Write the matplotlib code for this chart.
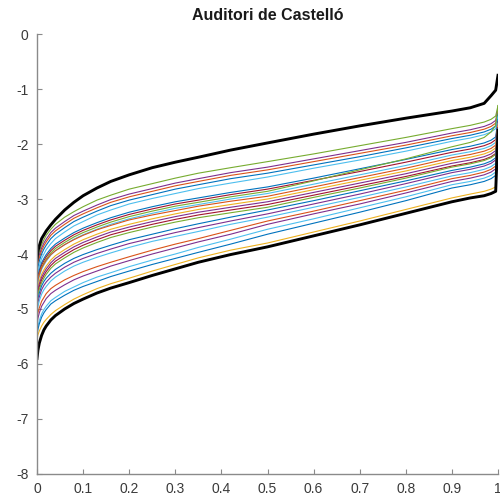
import matplotlib
matplotlib.use("Agg")
import matplotlib.pyplot as plt

# x positions (probability levels) at which the curves were read
p = [0, 0.002, 0.005, 0.01, 0.015, 0.02, 0.03, 0.04, 0.06, 0.08, 0.1, 0.13, 0.16, 0.2,
     0.25, 0.3, 0.35, 0.42, 0.5, 0.6, 0.7, 0.8, 0.9, 0.94, 0.97, 0.985, 0.995, 1.0]

upper_black = [-4.10, -3.95, -3.85, -3.72, -3.65, -3.58, -3.47, -3.37, -3.20, -3.06, -2.94, -2.80, -2.68, -2.56,
               -2.43, -2.33, -2.24, -2.11, -1.98, -1.82, -1.67, -1.53, -1.40, -1.34, -1.26, -1.12, -1.02, -0.75]
lower_black = [-5.90, -5.75, -5.62, -5.48, -5.38, -5.31, -5.20, -5.12, -5.00, -4.90, -4.82, -4.71, -4.62, -4.52,
               -4.39, -4.27, -4.15, -4.01, -3.87, -3.67, -3.47, -3.26, -3.05, -2.98, -2.94, -2.90, -2.86, -1.75]

c01 = [-4.25, -4.08, -3.96, -3.83, -3.74, -3.66, -3.55, -3.46, -3.33, -3.23, -3.14, -3.02, -2.93, -2.82,
       -2.72, -2.62, -2.53, -2.43, -2.32, -2.18, -2.03, -1.88, -1.72, -1.66, -1.60, -1.55, -1.49, -1.30]
c02 = [-4.30, -4.13, -4.02, -3.89, -3.80, -3.73, -3.61, -3.53, -3.41, -3.30, -3.22, -3.11, -3.01, -2.91,
       -2.81, -2.71, -2.63, -2.52, -2.42, -2.27, -2.12, -1.97, -1.80, -1.74, -1.68, -1.63, -1.57, -1.35]
c03 = [-4.35, -4.18, -4.07, -3.94, -3.85, -3.78, -3.66, -3.58, -3.46, -3.35, -3.27, -3.16, -3.06, -2.96,
       -2.86, -2.76, -2.68, -2.57, -2.47, -2.32, -2.17, -2.02, -1.85, -1.79, -1.73, -1.68, -1.62, -1.40]
c04 = [-4.41, -4.24, -4.13, -4.00, -3.91, -3.84, -3.72, -3.64, -3.52, -3.41, -3.33, -3.22, -3.12, -3.02,
       -2.92, -2.82, -2.74, -2.63, -2.53, -2.38, -2.23, -2.07, -1.90, -1.84, -1.78, -1.73, -1.67, -1.45]
c05 = [-4.50, -4.33, -4.22, -4.08, -4.00, -3.92, -3.81, -3.72, -3.60, -3.49, -3.41, -3.29, -3.20, -3.09,
       -2.99, -2.90, -2.81, -2.71, -2.60, -2.44, -2.29, -2.13, -1.95, -1.89, -1.83, -1.78, -1.72, -1.50]
c06 = [-4.55, -4.39, -4.29, -4.16, -4.08, -4.01, -3.90, -3.82, -3.71, -3.61, -3.53, -3.43, -3.34, -3.24,
       -3.14, -3.05, -2.98, -2.88, -2.78, -2.62, -2.45, -2.28, -2.10, -2.04, -1.98, -1.93, -1.87, -1.55]
c07 = [-4.59, -4.43, -4.33, -4.20, -4.12, -4.05, -3.94, -3.86, -3.75, -3.65, -3.57, -3.47, -3.38, -3.28,
       -3.18, -3.09, -3.02, -2.92, -2.82, -2.66, -2.50, -2.33, -2.15, -2.09, -2.03, -1.98, -1.92, -1.60]
c08 = [-4.63, -4.47, -4.37, -4.24, -4.16, -4.09, -3.98, -3.90, -3.79, -3.69, -3.61, -3.51, -3.42, -3.32,
       -3.22, -3.13, -3.06, -2.96, -2.86, -2.67, -2.47, -2.27, -2.05, -1.97, -1.88, -1.78, -1.66, -1.30]
c09 = [-4.67, -4.51, -4.41, -4.28, -4.20, -4.13, -4.02, -3.94, -3.83, -3.73, -3.65, -3.55, -3.46, -3.36,
       -3.26, -3.17, -3.10, -3.00, -2.90, -2.73, -2.56, -2.39, -2.20, -2.14, -2.08, -2.03, -1.97, -1.62]
c10 = [-4.62, -4.47, -4.37, -4.25, -4.18, -4.11, -4.01, -3.94, -3.83, -3.74, -3.66, -3.56, -3.48, -3.38,
       -3.29, -3.21, -3.13, -3.04, -2.95, -2.78, -2.61, -2.44, -2.25, -2.19, -2.13, -2.08, -2.02, -1.65]
c11 = [-4.75, -4.59, -4.49, -4.37, -4.29, -4.22, -4.11, -4.03, -3.92, -3.82, -3.74, -3.64, -3.55, -3.46,
       -3.36, -3.27, -3.19, -3.10, -3.00, -2.83, -2.66, -2.49, -2.30, -2.24, -2.18, -2.13, -2.07, -1.68]
c12 = [-4.80, -4.64, -4.54, -4.42, -4.34, -4.27, -4.16, -4.08, -3.97, -3.87, -3.79, -3.69, -3.60, -3.51,
       -3.41, -3.32, -3.24, -3.15, -3.05, -2.88, -2.71, -2.54, -2.35, -2.29, -2.23, -2.18, -2.12, -1.70]
c13 = [-4.85, -4.69, -4.59, -4.47, -4.39, -4.32, -4.21, -4.13, -4.02, -3.92, -3.84, -3.74, -3.65, -3.56,
       -3.46, -3.37, -3.29, -3.20, -3.10, -2.93, -2.76, -2.59, -2.40, -2.34, -2.28, -2.23, -2.17, -1.70]
c14 = [-4.90, -4.74, -4.64, -4.52, -4.44, -4.37, -4.26, -4.18, -4.07, -3.97, -3.89, -3.79, -3.70, -3.61,
       -3.51, -3.42, -3.34, -3.25, -3.15, -2.97, -2.80, -2.62, -2.42, -2.36, -2.30, -2.25, -2.19, -1.72]
c15 = [-4.95, -4.81, -4.71, -4.58, -4.50, -4.44, -4.35, -4.28, -4.17, -4.08, -4.01, -3.92, -3.84, -3.74,
       -3.64, -3.54, -3.45, -3.33, -3.20, -3.03, -2.85, -2.67, -2.48, -2.42, -2.36, -2.31, -2.25, -1.72]
c16 = [-5.02, -4.88, -4.78, -4.65, -4.57, -4.51, -4.42, -4.35, -4.24, -4.15, -4.08, -3.99, -3.91, -3.81,
       -3.71, -3.61, -3.52, -3.40, -3.27, -3.09, -2.91, -2.72, -2.52, -2.46, -2.40, -2.35, -2.29, -1.75]
c17 = [-5.10, -4.96, -4.85, -4.73, -4.65, -4.59, -4.49, -4.42, -4.31, -4.22, -4.15, -4.06, -3.98, -3.88,
       -3.77, -3.68, -3.59, -3.46, -3.33, -3.15, -2.97, -2.78, -2.58, -2.52, -2.46, -2.41, -2.35, -1.75]
c18 = [-5.20, -5.07, -4.98, -4.86, -4.79, -4.72, -4.63, -4.57, -4.47, -4.39, -4.32, -4.23, -4.15, -4.05,
       -3.93, -3.82, -3.72, -3.57, -3.40, -3.22, -3.03, -2.84, -2.63, -2.57, -2.51, -2.46, -2.40, -1.78]
c19 = [-5.30, -5.17, -5.07, -4.95, -4.88, -4.81, -4.72, -4.66, -4.56, -4.47, -4.40, -4.31, -4.22, -4.12,
       -4.00, -3.89, -3.78, -3.64, -3.46, -3.27, -3.09, -2.89, -2.68, -2.62, -2.56, -2.51, -2.45, -1.80]
c20 = [-5.45, -5.32, -5.21, -5.09, -5.01, -4.95, -4.85, -4.79, -4.68, -4.60, -4.52, -4.42, -4.34, -4.23,
       -4.11, -4.00, -3.88, -3.73, -3.55, -3.36, -3.16, -2.96, -2.74, -2.68, -2.62, -2.57, -2.51, -1.80]
c21 = [-5.50, -5.37, -5.27, -5.15, -5.07, -5.01, -4.91, -4.85, -4.75, -4.66, -4.59, -4.50, -4.41, -4.31,
       -4.19, -4.08, -3.97, -3.82, -3.64, -3.44, -3.24, -3.03, -2.80, -2.74, -2.68, -2.63, -2.57, -1.82]
c22 = [-5.55, -5.47, -5.40, -5.31, -5.24, -5.19, -5.10, -5.03, -4.92, -4.82, -4.74, -4.63, -4.54, -4.44,
       -4.31, -4.19, -4.07, -3.93, -3.80, -3.60, -3.40, -3.19, -2.98, -2.91, -2.86, -2.82, -2.78, -1.85]

colored = [c01, c02, c03, c04, c05, c06, c07, c08, c09, c10, c11,
           c12, c13, c14, c15, c16, c17, c18, c19, c20, c21, c22]
curve_colors = ['#77AC30', '#7E2F8E', '#D95319', '#0072BD', '#4DBEEE', '#0072BD', '#A2142F',
                '#77AC30', '#4DBEEE', '#D95319', '#EDB120', '#7E2F8E', '#A2142F', '#77AC30',
                '#0072BD', '#7E2F8E', '#4DBEEE', '#D95319', '#7E2F8E', '#4DBEEE', '#0072BD',
                '#EDB120']

xticks = [0, 0.1, 0.2, 0.3, 0.4, 0.5, 0.6, 0.7, 0.8, 0.9, 1]
xticklabels = ['0', '0.1', '0.2', '0.3', '0.4', '0.5', '0.6', '0.7', '0.8', '0.9', '1']
yticks = [-8, -7, -6, -5, -4, -3, -2, -1, 0]
yticklabels = ['-8', '-7', '-6', '-5', '-4', '-3', '-2', '-1', '0']
title = 'Auditori de Castelló'

plt.rcParams['font.family'] = ['Liberation Sans', 'DejaVu Sans']

fig = plt.figure(figsize=(5.0, 5.01), dpi=100)
ax = fig.add_axes([0.074, 0.054, 0.922, 0.878])

for ys, col in zip(colored, curve_colors):
    ax.plot(p, ys, color=col, lw=0.8, solid_joinstyle='round')

ax.plot(p, upper_black, color='black', lw=2.1, solid_joinstyle='round')
ax.plot(p, lower_black, color='black', lw=2.1, solid_joinstyle='round')

ax.set_xlim(0, 1)
ax.set_ylim(-8, 0)
ax.set_xticks(xticks)
ax.set_xticklabels(xticklabels)
ax.set_yticks(yticks)
ax.set_yticklabels(yticklabels)

for s in ['top', 'right']:
    ax.spines[s].set_visible(False)
for s in ['left', 'bottom']:
    ax.spines[s].set_color('#8a8a8a')
    ax.spines[s].set_linewidth(1.0)
ax.tick_params(direction='in', length=3.5, width=0.8, colors='#8a8a8a',
               labelcolor='#3a3a3a', labelsize=10, pad=6)
ax.set_title(title, fontsize=11.5, fontweight='bold', color='#1a1a1a', pad=10)

fig.savefig('out.png', dpi=100)
